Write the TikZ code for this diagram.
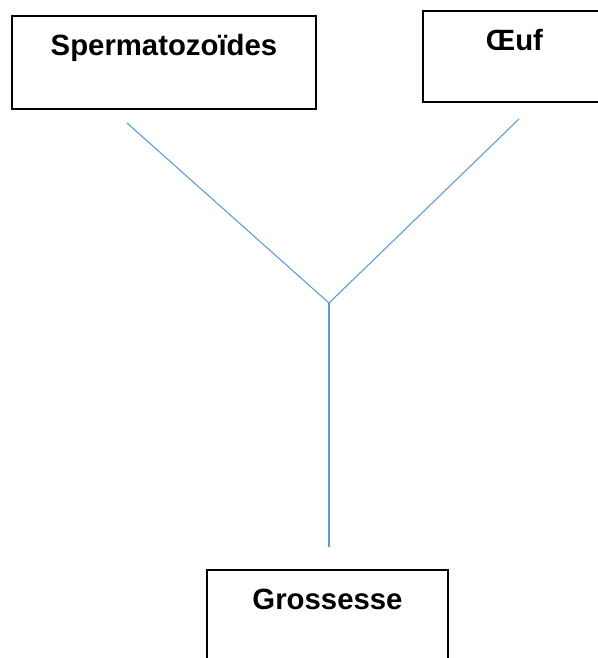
\documentclass[tikz,border=0pt]{standalone}
\usepackage{fontspec}
\setmainfont{Liberation Sans}
\usetikzlibrary{positioning}
\definecolor{linkblue}{HTML}{5B9BD5}

\begin{document}
\begin{tikzpicture}[x=0.75pt,y=-0.75pt,
  box/.style={draw=black,line width=1.3pt,minimum width=#1,inner sep=0pt},
  lbl/.style={font=\fontsize{22}{26}\selectfont\bfseries,inner sep=0pt,anchor=base},
  link/.style={draw=linkblue,line width=0.8pt}]
\clip (0,0) rectangle (598,658);
% boxes
\node[box=228pt,minimum height=69.75pt] (sperm) at (164,62.5) {};
\node[box=142.5pt,minimum height=68.25pt] (oeuf) at (518,56.5) {};
\node[box=180.75pt,minimum height=82.5pt] (gross) at (327.5,625) {};
\node[lbl] (spermlbl) at (164,55) {Spermatozoïdes};
\node[lbl] (oeuflbl) at (514.5,50) {Œuf};
\node[lbl] (grosslbl) at (327.5,609) {Grossesse};
% connectors
\coordinate (spermend) at (127,123);
\coordinate (oeufend) at (519,119);
\coordinate (meet) at (329,303);
\coordinate (grossend) at (329,547);
\draw[link] (spermend)--(meet)--(oeufend);
\draw[link] (meet)--(grossend);
\end{tikzpicture}
\end{document}
